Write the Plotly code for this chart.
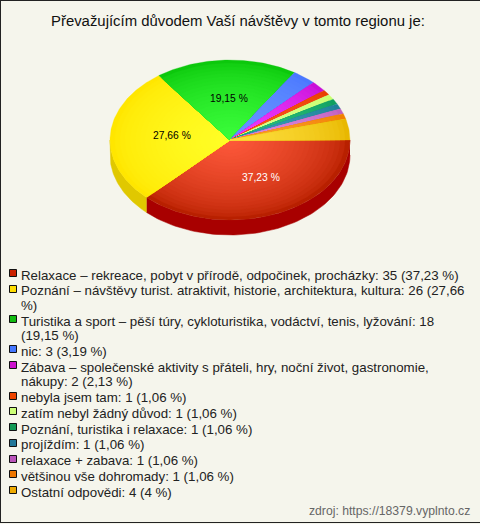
import numpy as np
import plotly.graph_objects as go

title = "Převažujícím důvodem Vaší návštěvy v tomto regionu je:"
source = "zdroj: https://18379.vyplnto.cz"
values = [35, 26, 18, 3, 2, 1, 1, 1, 1, 1, 1, 4]
legend_lines = [
    ["Relaxace – rekreace, pobyt v přírodě, odpočinek, procházky: 35 (37,23 %)"],
    ["Poznání – návštěvy turist. atraktivit, historie, architektura, kultura: 26 (27,66", "%)"],
    ["Turistika a sport – pěší túry, cykloturistika, vodáctví, tenis, lyžování: 18", "(19,15 %)"],
    ["nic: 3 (3,19 %)"],
    ["Zábava – společenské aktivity s přáteli, hry, noční život, gastronomie,", "nákupy: 2 (2,13 %)"],
    ["nebyla jsem tam: 1 (1,06 %)"],
    ["zatím nebyl žádný důvod: 1 (1,06 %)"],
    ["Poznání, turistika i relaxace: 1 (1,06 %)"],
    ["projíždím: 1 (1,06 %)"],
    ["relaxace + zabava: 1 (1,06 %)"],
    ["většinou vše dohromady: 1 (1,06 %)"],
    ["Ostatní odpovědi: 4 (4 %)"],
]
swatch_colors = ["#cc2200", "#ffdd00", "#11bb11", "#4477ff", "#cc11cc", "#ee4400",
                 "#ccff77", "#119955", "#227799", "#bb55bb", "#ee7700", "#eeaa00"]
inner_colors = ["#ff5a3c", "#ffff28", "#3cff3c", "#6a96ff", "#f040ff", "#ff5a20",
                "#dcff90", "#30c080", "#3aa0b8", "#e090e0", "#ffa030", "#ffe040"]
outer_colors = ["#b82000", "#ffe600", "#0cc80c", "#4a78ff", "#c810d8", "#e84000",
                "#c8ff70", "#10a060", "#208098", "#c060c0", "#f08000", "#e8b800"]
wall_colors = {0: "#a80000", 1: "#e0c800"}
pct_labels = {0: ("37,23 %", "white", 261, 177), 1: ("27,66 %", "black", 172, 135), 2: ("19,15 %", "black", 229, 98)}

BG = "#f5f5ec"
cx, cy, rx, ry, depth = 230, 140, 120, 80, 15
legend_top, line_h, item_gap = 275, 14.6, 1.15


def hex_rgb(h):
    return np.array([int(h[i:i + 2], 16) for i in (1, 3, 5)], float)


def wedge(a0, a1, scale):
    t = np.linspace(a0, a1, max(3, int((a1 - a0) * 60)))
    return (np.r_[cx, cx + scale * rx * np.cos(t), cx],
            np.r_[cy, cy + scale * ry * np.sin(t), cy])


edges = np.r_[0, np.cumsum(values)] / sum(values) * 2 * np.pi
fig = go.Figure()

# side wall
for i, col in wall_colors.items():
    a0, a1 = edges[i], min(edges[i + 1], np.pi)
    t = np.linspace(a0, a1, 80)
    xs = cx + rx * np.cos(t)
    ys = cy + ry * np.sin(t)
    fig.add_trace(go.Scatter(x=np.r_[xs, xs[::-1]], y=np.r_[ys, ys[::-1] + depth], mode="lines",
                             fill="toself", fillcolor=col, line=dict(color=col, width=0.5),
                             hoverinfo="skip", showlegend=False))

# top surface, shaded from rim to centre
steps = 24
for i, v in enumerate(values):
    c_out, c_in = hex_rgb(outer_colors[i]), hex_rgb(inner_colors[i])
    for k, s in enumerate(np.linspace(1, 1 / steps, steps)):
        c = c_out + (c_in - c_out) * (1 - s) ** 0.6
        col = "rgb(%d,%d,%d)" % tuple(c)
        x, y = wedge(edges[i], edges[i + 1], s)
        fig.add_trace(go.Scatter(x=x, y=y, mode="lines", fill="toself", fillcolor=col,
                                 line=dict(color=col, width=0.3), name=legend_lines[i][0],
                                 hoverinfo="skip", showlegend=False))

ann = []
for i, (txt, col, x, y) in pct_labels.items():
    ann.append(dict(x=x, y=y, text=txt, showarrow=False, xanchor="center", yanchor="middle",
                    font=dict(family="Liberation Sans", size=10.3, color=col)))

ann.append(dict(x=238, y=21, text=title, showarrow=False, xanchor="center", yanchor="middle",
                font=dict(family="Liberation Sans", size=14.9, color="#111111")))
ann.append(dict(x=472, y=511, text=source, showarrow=False, xanchor="right", yanchor="middle",
                font=dict(family="Liberation Sans", size=12.2, color="#666666")))

shapes = [
    dict(type="line", xref="x", yref="y", x0=0, x1=480, y0=0.5, y1=0.5, line=dict(color="#222222", width=1)),
    dict(type="line", xref="x", yref="y", x0=0.5, x1=0.5, y0=0, y1=523, line=dict(color="#222222", width=1)),
    dict(type="line", xref="x", yref="y", x0=0, x1=480, y0=522.5, y1=522.5, line=dict(color="#222222", width=1)),
]
y = legend_top
for i, lines in enumerate(legend_lines):
    top = round(y - 5) - 0.5
    shapes.append(dict(type="rect", xref="x", yref="y", x0=9.5, x1=16.5, y0=top, y1=top + 7,
                       fillcolor=swatch_colors[i], line=dict(color="#111111", width=1)))
    for ln in lines:
        ann.append(dict(x=19, y=y, text=ln, showarrow=False, xanchor="left", yanchor="middle",
                        font=dict(family="Liberation Sans", size=13.3, color="#222222")))
        y += line_h
    y += item_gap

fig.update_layout(width=480, height=524, autosize=False, margin=dict(l=0, r=0, t=0, b=0),
                  paper_bgcolor=BG, plot_bgcolor=BG, showlegend=False,
                  xaxis=dict(range=[0, 480], visible=False, fixedrange=True),
                  yaxis=dict(range=[524, 0], visible=False, fixedrange=True),
                  annotations=ann, shapes=shapes)
fig.write_html("out.html", config={"displayModeBar": False},
               post_script="document.documentElement.style.margin='0';document.body.style.margin='0';")
